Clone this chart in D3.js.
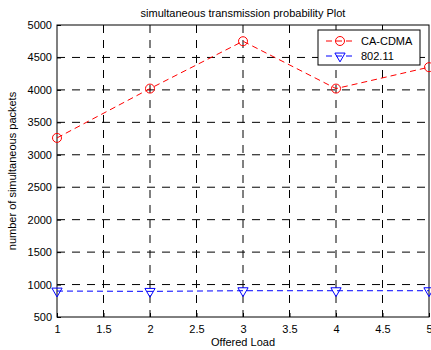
<!DOCTYPE html>
<html>
<head>
<meta charset="utf-8">
<script src="https://cdn.jsdelivr.net/npm/d3@7"></script>
<style>
  body { margin: 0; background: #fff; }
  text { font-family: "Liberation Sans", Arial, sans-serif; }
</style>
</head>
<body>
<div id="chart"></div>
<script>
// data
const offeredLoad = [1, 2, 3, 4, 5];
const caCdma = [3260, 4020, 4750, 4020, 4350];
const wifi = [900, 895, 905, 905, 905];
const xTicks = [1, 1.5, 2, 2.5, 3, 3.5, 4, 4.5, 5];
const yTicks = [500, 1000, 1500, 2000, 2500, 3000, 3500, 4000, 4500, 5000];

const W = 431, H = 350;
const margin = { top: 25, right: 2, bottom: 33, left: 57 };
const width = W - margin.left - margin.right;
const height = H - margin.top - margin.bottom;

const svg = d3.select('#chart').append('svg')
    .attr('width', W).attr('height', H);

const g = svg.append('g')
    .attr('transform', `translate(${margin.left},${margin.top})`);

const x = d3.scaleLinear().domain([1, 5]).range([0, width]);
const y = d3.scaleLinear().domain([500, 5000]).range([height, 0]);

// grid
g.append('g').selectAll('line').data(xTicks.slice(1, -1)).join('line')
    .attr('x1', d => x(d)).attr('x2', d => x(d))
    .attr('y1', 0).attr('y2', height)
    .attr('stroke', '#000').attr('stroke-width', 1)
    .attr('stroke-dasharray', '8,7');
g.append('g').selectAll('line').data(yTicks.slice(1, -1)).join('line')
    .attr('x1', 0).attr('x2', width)
    .attr('y1', d => y(d)).attr('y2', d => y(d))
    .attr('stroke', '#000').attr('stroke-width', 1)
    .attr('stroke-dasharray', '8,7');

// axes
const xAxis = g.append('g').attr('transform', `translate(0,${height})`)
    .call(d3.axisBottom(x).tickValues(xTicks).tickSize(-4).tickPadding(8).tickFormat(d3.format('')));
const yAxis = g.append('g')
    .call(d3.axisLeft(y).tickValues(yTicks).tickSize(-4).tickPadding(5).tickFormat(d3.format('d')));
[xAxis, yAxis].forEach(a => {
    a.select('.domain').remove();
    a.selectAll('text').style('font-size', '11px').attr('fill', '#000');
});

// frame
g.append('rect').attr('width', width).attr('height', height)
    .attr('fill', 'none').attr('stroke', '#000').attr('stroke-width', 1);

// series
const line = d3.line().x((d, i) => x(offeredLoad[i])).y(d => y(d));
g.append('path').datum(caCdma).attr('d', line)
    .attr('fill', 'none').attr('stroke', '#ff0000').attr('stroke-dasharray', '6,4');
g.append('path').datum(wifi).attr('d', line)
    .attr('fill', 'none').attr('stroke', '#0000ff').attr('stroke-dasharray', '6,4');

g.selectAll('.circ').data(caCdma).join('circle')
    .attr('cx', (d, i) => x(offeredLoad[i])).attr('cy', d => y(d)).attr('r', 4.5)
    .attr('fill', 'none').attr('stroke', '#ff0000');

const tri = d3.symbol().type(d3.symbolTriangle).size(45);
g.selectAll('.tri').data(wifi).join('path')
    .attr('d', tri)
    .attr('transform', (d, i) => `translate(${x(offeredLoad[i])},${y(d)}) rotate(180)`)
    .attr('fill', 'none').attr('stroke', '#0000ff');

// title and labels
svg.append('text').attr('x', margin.left + width / 2).attr('y', 17)
    .attr('text-anchor', 'middle').style('font-size', '11px')
    .text('simultaneous transmission probability Plot');
svg.append('text').attr('x', margin.left + width / 2).attr('y', 346)
    .attr('text-anchor', 'middle').style('font-size', '11px')
    .text('Offered Load');
svg.append('text')
    .attr('transform', `translate(16,${margin.top + height / 2}) rotate(-90)`)
    .attr('text-anchor', 'middle').style('font-size', '11px')
    .text('number of simultaneous packets');

// legend
const lg = svg.append('g').attr('transform', 'translate(318,30)');
lg.append('rect').attr('width', 102).attr('height', 35)
    .attr('fill', '#fff').attr('stroke', '#000');
const entries = [
    { name: 'CA-CDMA', color: '#ff0000', marker: 'circle' },
    { name: '802.11', color: '#0000ff', marker: 'tri' }
];
entries.forEach((e, i) => {
    const cy = 11 + i * 15;
    lg.append('line').attr('x1', 8).attr('x2', 36).attr('y1', cy).attr('y2', cy)
        .attr('stroke', e.color).attr('stroke-dasharray', '6,4');
    if (e.marker === 'circle') {
        lg.append('circle').attr('cx', 22).attr('cy', cy).attr('r', 4.5)
            .attr('fill', 'none').attr('stroke', e.color);
    } else {
        lg.append('path').attr('d', tri)
            .attr('transform', `translate(22,${cy}) rotate(180)`)
            .attr('fill', 'none').attr('stroke', e.color);
    }
    lg.append('text').attr('x', 43).attr('y', cy + 4)
        .style('font-size', '11px').text(e.name);
});
</script>
</body>
</html>
